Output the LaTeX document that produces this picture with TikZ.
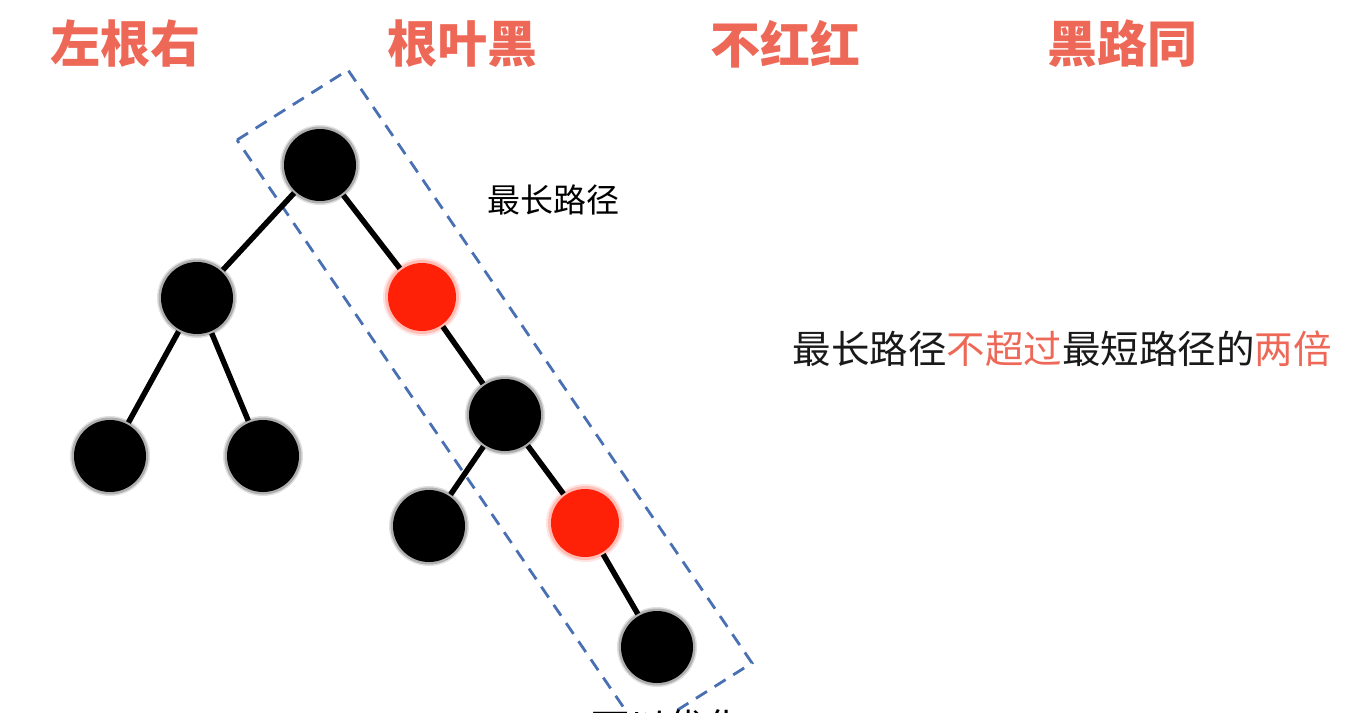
\documentclass[tikz,border=0pt]{standalone}
\usepackage{fontspec}
\newfontfamily\cjk{Noto Sans CJK SC}
\definecolor{salmon}{RGB}{238,104,88}
\definecolor{nodered}{RGB}{255,32,8}
\definecolor{dashblue}{RGB}{72,112,178}
\tikzset{
  blk/.style={circle, fill=black, minimum size=72pt, inner sep=0pt},
  rednode/.style={circle, fill=nodered, minimum size=68pt, inner sep=0pt},
  edge/.style={line width=5.5pt, black, shorten <=2pt, shorten >=2pt},
  head/.style={text=salmon, font=\cjk\bfseries\fontsize{50}{54}\selectfont},
  dashbox/.style={draw=dashblue, line width=2.8pt, dash pattern=on 13pt off 9pt},
}
\begin{document}
\begin{tikzpicture}[x=1pt, y=-1pt]
\useasboundingbox (0,0) rectangle (1348,712);
% headings
\node[head] (h1) at (125,44) {左根右};
\node[head] (h2) at (462,44) {根叶黑};
\node[head] (h3) at (785,44) {不红红};
\node[head] (h4) at (1122,44) {黑路同};
% dashed frame
\coordinate (c1) at (237,140);
\coordinate (c2) at (348,70);
\coordinate (c3) at (752,663);
\coordinate (c4) at (641,733);
\draw[dashbox] (c1) -- (c2) -- (c3) -- (c4) -- cycle;
% glows
\foreach \p in {(320,165),(197,298),(110,456),(263,456),(505,415),(429,526),(657,647)} {
  \fill[black, opacity=0.12] \p circle (40pt);
  \fill[black, opacity=0.22] \p circle (38.5pt);
}
\foreach \p in {(422,297),(585,523)} {
  \fill[nodered, opacity=0.12] \p circle (39pt);
  \fill[nodered, opacity=0.2] \p circle (37pt);
}
% nodes
\node[blk] (root) at (320,165) {};
\node[blk] (l) at (197,298) {};
\node[rednode] (r) at (422,297) {};
\node[blk] (ll) at (110,456) {};
\node[blk] (lr) at (263,456) {};
\node[blk] (rr) at (505,415) {};
\node[blk] (rrl) at (429,526) {};
\node[rednode] (rrr) at (585,523) {};
\node[blk] (rrrr) at (657,647) {};
% edges
\draw[edge] (root) -- (l);
\draw[edge] (root) -- (r);
\draw[edge] (l) -- (ll);
\draw[edge] (l) -- (lr);
\draw[edge] (r) -- (rr);
\draw[edge] (rr) -- (rrl);
\draw[edge] (rr) -- (rrr);
\draw[edge] (rrr) -- (rrrr);
% labels
\node[font=\cjk\fontsize{33}{36}\selectfont, text=black] (lp) at (553,200) {最长路径};
\node[font=\cjk\fontsize{38.5}{42}\selectfont, text=black!90] (note) at (1062,349) {最长路径\textcolor{salmon}{不超过}最短路径的\textcolor{salmon}{两倍}};
\node[font=\cjk\fontsize{38}{40}\selectfont, text=black] (bot) at (667,727) {可以优化};
\end{tikzpicture}
\end{document}
